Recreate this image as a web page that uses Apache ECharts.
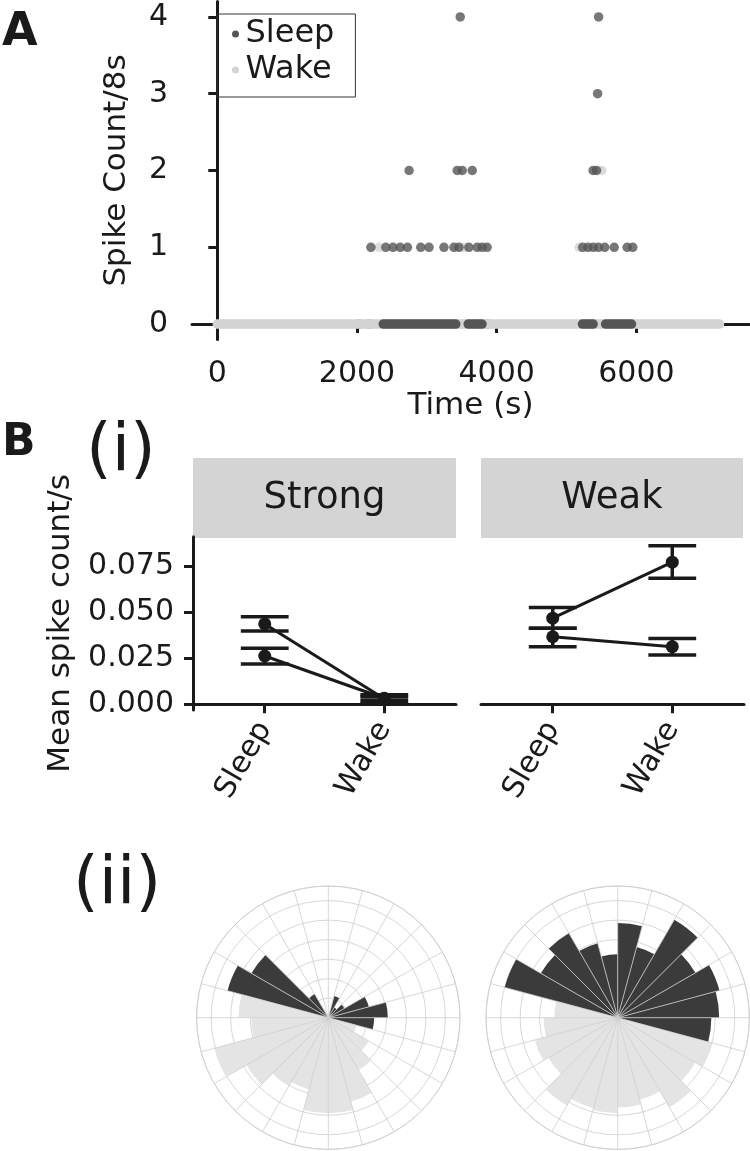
<!DOCTYPE html>
<html>
<head>
<meta charset="utf-8">
<script src="https://cdn.jsdelivr.net/npm/echarts@6/dist/echarts.min.js"></script>
<style>
html, body { margin: 0; padding: 0; background: #fff; }
#main { width: 750px; height: 1151px; }
</style>
</head>
<body>
<div id="main"></div>
<script>
// ---- panel A : spike count per 8 s epoch ----
var countTicks = [0, 1, 2, 3, 4];
var timeTicks = [0, 2000, 4000, 6000];
// runs of zero-count epochs, [first, last] time in s
var wakeZeroRuns = [[0, 7190]];
var sleepZeroRuns = [[2376, 3414], [3592, 3790], [5228, 5381], [5559, 5930]];
var sleepZeroSingles = [2030, 2175, 3868];
var wakeZeroSingles = [2062, 2208, 3505, 3895, 5470];
// epochs with spikes, [time, count]
var sleepSpikes = [
  [2199, 1], [2413, 1], [2516, 1], [2619, 1], [2722, 1], [2913, 1], [3031, 1], [3245, 1],
  [3388, 1], [3460, 1], [3602, 1], [3721, 1], [3792, 1], [3863, 1],
  [5231, 1], [5307, 1], [5381, 1], [5457, 1], [5547, 1], [5682, 1], [5868, 1], [5948, 1],
  [2746, 2], [3435, 2], [3507, 2], [3650, 2], [5380, 2], [5430, 2],
  [5445, 3], [3478, 4], [5459, 4]
];
var wakeSpikes = [[2318, 1], [3531, 1], [5181, 1], [5505, 2]];

// ---- panel B(i) : mean spike count/s, two cells per group ----
var conds = ['Sleep', 'Wake'];
var meanTicks = [0, 0.025, 0.05, 0.075];
var strongCell1Mean = [0.0438, 0.0030];
var strongCell1Lo   = [0.0399, 0.0004];
var strongCell1Hi   = [0.0477, 0.0052];
var strongCell2Mean = [0.0263, 0.0033];
var strongCell2Lo   = [0.0220, 0.0020];
var strongCell2Hi   = [0.0305, 0.0040];
var weakCell1Mean = [0.0469, 0.0774];
var weakCell1Lo   = [0.0414, 0.0687];
var weakCell1Hi   = [0.0527, 0.0864];
var weakCell2Mean = [0.0368, 0.0314];
var weakCell2Lo   = [0.0314, 0.0269];
var weakCell2Hi   = [0.0414, 0.0358];

// ---- panel B(ii) : rose plots, 24 bins clockwise from top ----
var hourBins = ['0','1','2','3','4','5','6','7','8','9','10','11','12','13','14','15','16','17','18','19','20','21','22','23'];
var strongSleepRose = [0, 1.15, 0.6, 0.95, 2.15, 3.05, 2.35, 0, 0, 0, 0, 0, 0, 0, 0, 0, 0, 0, 0, 5.35, 4.55, 1.4, 0, 0];
var strongWakeRose  = [0, 0, 0, 0, 0, 0, 0, 1.5, 2.4, 3.1, 4.45, 4.9, 4.9, 3.8, 4.05, 4.85, 6.05, 3.95, 4.6, 0, 0, 0, 0, 0];
var weakSleepRose = [4.85, 3.75, 5.8, 4.6, 5.4, 5.2, 4.8, 0, 0, 0, 0, 0, 0, 0, 0, 0, 0, 0, 0, 6.0, 4.55, 5.0, 3.95, 3.25];
var weakWakeRose  = [0, 0, 0, 0, 0, 0, 0, 5.0, 4.6, 5.3, 4.35, 4.6, 4.9, 4.8, 5.2, 4.1, 4.4, 3.8, 3.25, 0, 0, 0, 0, 0];

var ink = '#1a1a1a';
var sleepCol = '#555555';
var wakeCol = '#d3d3d3';
var roseSleep = '#3b3b3b';
var roseWake = '#e4e4e4';
var roseGrid = '#cdcdcd';
var font = 'DejaVu Sans, Liberation Sans, Arial, sans-serif';
var capWidth = 0.4;

var myChart = echarts.init(document.getElementById('main'));

function axisLine() { return { show: true, lineStyle: { color: ink, width: 3 } }; }
function ticks(vals) { return { show: true, length: 9, customValues: vals, lineStyle: { color: ink, width: 3 } }; }

// error bars for B(i)
function errorBarItem(params, api) {
  var x = api.value(0);
  var hi = api.coord([x, api.value(2)]);
  var lo = api.coord([x, api.value(1)]);
  var half = api.size([capWidth, 0])[0] / 2;
  var st = { stroke: ink, lineWidth: 3.5 };
  return {
    type: 'group',
    children: [
      { type: 'line', shape: { x1: hi[0], y1: hi[1], x2: lo[0], y2: lo[1] }, style: st },
      { type: 'line', shape: { x1: hi[0] - half, y1: hi[1], x2: hi[0] + half, y2: hi[1] }, style: st },
      { type: 'line', shape: { x1: lo[0] - half, y1: lo[1], x2: lo[0] + half, y2: lo[1] }, style: st }
    ]
  };
}

var series = [];
// panel A
wakeZeroRuns.forEach(function (r) {
  series.push({ type: 'line', name: 'Wake', xAxisIndex: 0, yAxisIndex: 0, symbol: 'none', silent: true,
    data: [[r[0], 0], [r[1], 0]], color: wakeCol,
    lineStyle: { color: wakeCol, width: 9.5, cap: 'round' } });
});
sleepZeroRuns.forEach(function (r) {
  series.push({ type: 'line', name: 'Sleep', xAxisIndex: 0, yAxisIndex: 0, symbol: 'none', silent: true,
    data: [[r[0], 0], [r[1], 0]], color: sleepCol,
    lineStyle: { color: sleepCol, width: 9.5, cap: 'round' } });
});
series.push({ type: 'scatter', name: 'Sleep', xAxisIndex: 0, yAxisIndex: 0, symbolSize: 9.5,
  data: sleepZeroSingles.map(function (t) { return [t, 0]; }), itemStyle: { color: sleepCol } });
series.push({ type: 'scatter', name: 'Wake', xAxisIndex: 0, yAxisIndex: 0, symbolSize: 9.5,
  data: wakeZeroSingles.map(function (t) { return [t, 0]; }), itemStyle: { color: wakeCol } });
series.push({ type: 'scatter', name: 'Wake', xAxisIndex: 0, yAxisIndex: 0, symbolSize: 9.5,
  data: wakeSpikes, itemStyle: { color: wakeCol } });
series.push({ type: 'scatter', name: 'Sleep', xAxisIndex: 0, yAxisIndex: 0, symbolSize: 9.5,
  data: sleepSpikes, itemStyle: { color: sleepCol } });

// panel B(i)
var cells = [
  { axis: 1, mean: strongCell1Mean, lo: strongCell1Lo, hi: strongCell1Hi },
  { axis: 1, mean: strongCell2Mean, lo: strongCell2Lo, hi: strongCell2Hi },
  { axis: 2, mean: weakCell1Mean, lo: weakCell1Lo, hi: weakCell1Hi },
  { axis: 2, mean: weakCell2Mean, lo: weakCell2Lo, hi: weakCell2Hi }
];
cells.forEach(function (c) {
  series.push({ type: 'custom', xAxisIndex: c.axis, yAxisIndex: c.axis, renderItem: errorBarItem, z: 2,
    encode: { x: 0, y: [1, 2] },
    data: conds.map(function (n, i) { return [i + 1, c.lo[i], c.hi[i]]; }) });
  series.push({ type: 'line', xAxisIndex: c.axis, yAxisIndex: c.axis, symbol: 'circle', symbolSize: 13, z: 3,
    data: conds.map(function (n, i) { return [i + 1, c.mean[i]]; }),
    itemStyle: { color: ink }, lineStyle: { color: ink, width: 3 } });
});

// panel B(ii)
[[strongSleepRose, strongWakeRose], [weakSleepRose, weakWakeRose]].forEach(function (pair, k) {
  series.push({ type: 'bar', coordinateSystem: 'polar', polarIndex: k, data: pair[0],
    barCategoryGap: '0%', barGap: '-100%', itemStyle: { color: roseSleep } });
  series.push({ type: 'bar', coordinateSystem: 'polar', polarIndex: k, data: pair[1],
    barCategoryGap: '0%', barGap: '-100%', itemStyle: { color: roseWake } });
});

function bXAxis(idx) {
  return { gridIndex: idx, type: 'value', min: 0.4, max: 2.6,
    axisLine: axisLine(), axisTick: ticks([1, 2]), splitLine: { show: false },
    axisLabel: { customValues: [1, 2], rotate: 60, margin: 14, color: ink, fontSize: 30, fontFamily: font,
      formatter: function (v) { return conds[Math.round(v) - 1]; } } };
}

var option = {
  animation: false,
  backgroundColor: '#fff',
  textStyle: { fontFamily: font, color: ink },
  legend: {
    left: 217, top: 14, orient: 'vertical', icon: 'circle', itemWidth: 10, itemHeight: 7, itemGap: 0,
    padding: [2, 21, 9, 15], borderColor: '#333', borderWidth: 1, selectedMode: false,
    textStyle: { fontSize: 32, lineHeight: 36, color: ink, fontFamily: font },
    data: [{ name: 'Sleep', itemStyle: { color: sleepCol } }, { name: 'Wake', itemStyle: { color: wakeCol } }]
  },
  grid: [
    { left: 192, top: 1.6, width: 557, height: 337.8 },
    { left: 193, top: 536.7, width: 263, height: 173.3 },
    { left: 481, top: 536.7, width: 263, height: 173.3 }
  ],
  xAxis: [
    { gridIndex: 0, type: 'value', min: -362, max: 7612, name: 'Time (s)', nameLocation: 'middle', nameGap: 42,
      nameTextStyle: { fontSize: 31, color: ink, fontFamily: font },
      axisLine: axisLine(), axisTick: ticks(timeTicks), splitLine: { show: false },
      axisLabel: { customValues: timeTicks, margin: 20, color: ink, fontSize: 30, fontFamily: font,
        formatter: function (v) { return String(v); } } },
    bXAxis(1), bXAxis(2)
  ],
  yAxis: [
    { gridIndex: 0, type: 'value', min: -0.2, max: 4.2, name: 'Spike Count/8s', nameLocation: 'middle', nameGap: 60,
      nameTextStyle: { fontSize: 31, color: ink, fontFamily: font },
      axisLine: axisLine(), axisTick: ticks(countTicks), splitLine: { show: false },
      axisLabel: { customValues: countTicks, margin: 24, color: ink, fontSize: 30, fontFamily: font } },
    { gridIndex: 1, type: 'value', min: -0.0031, max: 0.0913, name: 'Mean spike count/s', nameLocation: 'middle', nameGap: 117,
      nameTextStyle: { fontSize: 31, color: ink, fontFamily: font },
      axisLine: axisLine(), axisTick: ticks(meanTicks), splitLine: { show: false },
      axisLabel: { customValues: meanTicks, margin: 19, color: ink, fontSize: 30, fontFamily: font,
        formatter: function (v) { return v.toFixed(3); } } },
    { gridIndex: 2, type: 'value', min: -0.0031, max: 0.0913, show: false }
  ],
  polar: [
    { center: [328.3, 1017.7], radius: 131.7 },
    { center: [617.7, 1017.7], radius: 131.7 }
  ],
  angleAxis: [0, 1].map(function (k) {
    return { polarIndex: k, type: 'category', data: hourBins, startAngle: 90, clockwise: true, boundaryGap: true, z: 3,
      axisLine: { show: true, lineStyle: { color: roseGrid, width: 0.8 } }, axisTick: { show: false }, axisLabel: { show: false },
      splitLine: { show: true, lineStyle: { color: roseGrid, width: 0.8 } } };
  }),
  radiusAxis: [0, 1].map(function (k) {
    return { polarIndex: k, type: 'value', min: 0, max: 6.75, interval: 1, z: 0,
      axisLine: { show: false }, axisTick: { show: false }, axisLabel: { show: false },
      splitLine: { show: true, lineStyle: { color: roseGrid, width: 0.8 } } };
  }),
  graphic: [
    { type: 'text', left: 2, top: 10, style: { text: 'A', font: 'bold 46px ' + font, fill: ink } },
    { type: 'text', left: 2, top: 422, style: { text: 'B', font: 'bold 44px ' + font, fill: ink } },
    { type: 'text', left: 86, top: 420, style: { text: '(i)', font: '66px ' + font, fill: ink } },
    { type: 'text', left: 73, top: 853, style: { text: '(ii)', font: '66px ' + font, fill: ink } },
    { type: 'rect', shape: { x: 193, y: 458, width: 263, height: 80 }, style: { fill: '#d4d4d4' } },
    { type: 'rect', shape: { x: 481, y: 458, width: 262, height: 80 }, style: { fill: '#d4d4d4' } },
    { type: 'text', x: 324.5, y: 498, style: { text: 'Strong', font: '37px ' + font, fill: ink, align: 'center', verticalAlign: 'middle' } },
    { type: 'text', x: 612, y: 498, style: { text: 'Weak', font: '37px ' + font, fill: ink, align: 'center', verticalAlign: 'middle' } }
  ],
  series: series
};
myChart.setOption(option);
</script>
</body>
</html>
